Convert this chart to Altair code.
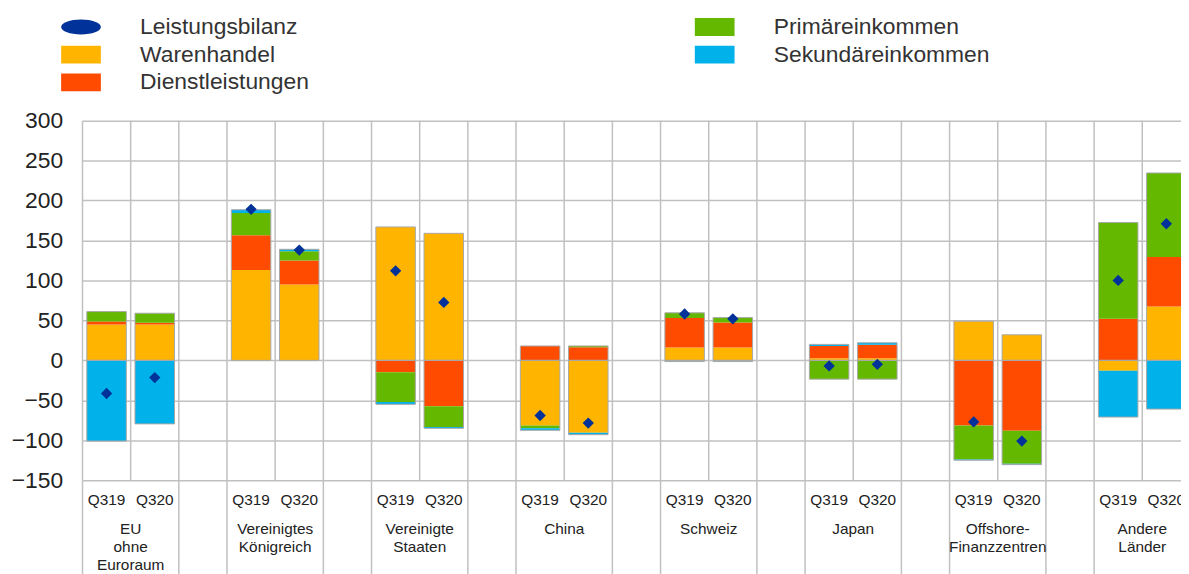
import altair as alt
import pandas as pd

groups = ["EU ohne Euroraum", "Vereinigtes Königreich", "Vereinigte Staaten", "China",
          "Schweiz", "Japan", "Offshore-Finanzzentren", "Andere Länder"]
group_labels = ["EU\nohne\nEuroraum", "Vereinigtes\nKönigreich", "Vereinigte\nStaaten", "China",
                "Schweiz", "Japan", "Offshore-\nFinanzzentren", "Andere\nLänder"]
periods = ["Q319", "Q320"]

# values per group: Q319, Q320 (EUR bn)
warenhandel = [45, 45, 113, 95, 167, 159, -81.5, -90.5, 16, 16, 2.5, 2.5, 49, 32, -13, 67.5]
dienstleistungen = [3.5, 2, 43.5, 30, -15, -57.5, 18, 16.5, 37, 31.5, 15.5, 17, -81.5, -88, 52, 62]
primaereinkommen = [12.5, 12, 28, 11.5, -37, -26, -3.5, 1.5, 6.5, 6, -23.5, -23.5, -42.5, -41.5, 120.5, 105]
sekundaereinkommen = [-101, -79.5, 4, 2.5, -3, -1.5, -2.5, -2.5, -1.5, -1.5, 2, 2.5, -1, -1, -58, -61]
leistungsbilanz = [-41.5, -21.5, 189, 138, 112, 72.5, -69, -78.5, 58, 52, -7, -5, -77, -101, 100, 171]

series_names = ["Warenhandel", "Dienstleistungen", "Primäreinkommen", "Sekundäreinkommen"]
series_values = [warenhandel, dienstleistungen, primaereinkommen, sekundaereinkommen]

legend_order = ["Leistungsbilanz", "Warenhandel", "Dienstleistungen", "Primäreinkommen", "Sekundäreinkommen"]
legend_colors = ["#003299", "#FFB400", "#FF4B00", "#65B800", "#00B1EA"]
ellipse = "M-2,0 A2,0.75 0 1,0 2,0 A2,0.75 0 1,0 -2,0 Z"
rect = "M-2,-0.9 L2,-0.9 L2,0.9 L-2,0.9 Z"
legend_shapes = [ellipse, rect, rect, rect, rect]

# slots: Q319, Q320, gap for each group
slots = []
for gi in range(len(groups)):
    slots += [f"{gi}|Q319", f"{gi}|Q320", f"{gi}|gap"]

bar_rows = []
for si, (name, vals) in enumerate(zip(series_names, series_values)):
    for gi in range(len(groups)):
        for pi, p in enumerate(periods):
            bar_rows.append({"slot": f"{gi}|{p}", "series": name, "value": vals[gi * 2 + pi], "ord": si})
bars_df = pd.DataFrame(bar_rows)

# outline of the positive and negative stacks
outline_rows = []
for gi in range(len(groups)):
    for pi, p in enumerate(periods):
        k = gi * 2 + pi
        pos = sum(v[k] for v in series_values if v[k] > 0)
        neg = sum(v[k] for v in series_values if v[k] < 0)
        if pos:
            outline_rows.append({"slot": f"{gi}|{p}", "lo": 0, "hi": pos})
        if neg:
            outline_rows.append({"slot": f"{gi}|{p}", "lo": neg, "hi": 0})
outline_df = pd.DataFrame(outline_rows)

ca_df = pd.DataFrame([{"slot": f"{gi}|{p}", "ca": leistungsbilanz[gi * 2 + pi]}
                      for gi in range(len(groups)) for pi, p in enumerate(periods)])

grid_df = pd.DataFrame({"slot": slots})
bound_df = pd.DataFrame({"slot": [s for s in slots if not s.endswith("Q320")]})
label_df = pd.DataFrame({"slot": [f"{gi}|Q320" for gi in range(len(groups))], "label": group_labels})
legend_df = pd.DataFrame({"series": legend_order})

STEP = 48.5
W, H = STEP * len(slots), 362
FONT = "Liberation Sans"
GRID = "#c0c0c0"

x_scale = alt.Scale(domain=slots, paddingInner=0, paddingOuter=0, round=False)
x_axis = alt.Axis(title=None, grid=False, ticks=False, domain=False, labelAngle=0,
                  labelExpr="split(datum.value, '|')[1] == 'gap' ? '' : split(datum.value, '|')[1]",
                  labelFontSize=15.5, labelFont=FONT, labelColor="#222", labelPadding=12)
y_scale = alt.Scale(domain=[-150, 300], nice=False)
y_axis = alt.Axis(title=None, values=list(range(-150, 301, 50)), grid=True, gridColor=GRID,
                  gridWidth=1.5, ticks=False, domain=False, labelFontSize=23, labelFont=FONT,
                  labelColor="#222", labelPadding=20)

color_scale = alt.Scale(domain=legend_order, range=legend_colors)
shape_scale = alt.Scale(domain=legend_order, range=legend_shapes)
legend = alt.Legend(orient="none", legendX=-13, legendY=-106, columns=2, title=None,
                    labelFontSize=23, labelFont=FONT, labelColor="#333", symbolSize=400,
                    symbolStrokeWidth=0, labelOffset=48, rowPadding=4, columnPadding=387,
                    labelLimit=400, symbolOpacity=1)


def xenc(band=None):
    if band is None:
        return alt.X("slot:N", scale=x_scale, axis=x_axis, sort=slots)
    return alt.X("slot:N", scale=x_scale, axis=x_axis, sort=slots, bandPosition=band)


grid_rules = alt.Chart(grid_df).mark_rule(color=GRID, strokeWidth=1.5).encode(
    x=xenc(0), y=alt.value(0), y2=alt.value(H))

bound_rules = alt.Chart(bound_df).mark_rule(color=GRID, strokeWidth=1.5).encode(
    x=xenc(0), y=alt.value(H), y2=alt.value(H + 120))

bars = alt.Chart(bars_df).mark_bar(width=alt.RelativeBandSize(0.82)).encode(
    x=xenc(),
    y=alt.Y("value:Q", stack="zero", scale=y_scale, axis=y_axis),
    color=alt.Color("series:N", scale=color_scale, legend=legend),
    order=alt.Order("ord:Q", sort="ascending"),
)

outlines = alt.Chart(outline_df).mark_bar(width=alt.RelativeBandSize(0.82), fillOpacity=0,
                                          stroke="#a8a8a8", strokeWidth=1).encode(
    x=xenc(),
    y=alt.Y("hi:Q", scale=y_scale, axis=y_axis),
    y2="lo:Q",
)

points = alt.Chart(ca_df).mark_point(shape="diamond", filled=True, size=130, color="#003299",
                                     opacity=1).encode(
    x=xenc(), y=alt.Y("ca:Q", scale=y_scale, axis=y_axis))

group_text = alt.Chart(label_df).mark_text(baseline="top", align="center", lineBreak="\n",
                                           fontSize=15.5, lineHeight=18, font=FONT,
                                           color="#222").encode(
    x=xenc(0), y=alt.value(H + 42), text="label:N")

legend_layer = alt.Chart(legend_df).mark_point(filled=True, opacity=1, clip=True).encode(
    y=alt.value(-2000),
    color=alt.Color("series:N", scale=color_scale, legend=legend),
    shape=alt.Shape("series:N", scale=shape_scale, legend=legend),
)

chart = alt.layer(grid_rules, bound_rules, bars, outlines, points, group_text,
                  legend_layer).properties(
    width=W, height=H,
    autosize=alt.AutoSizeParams(type="none"),
    padding={"left": 75, "top": 111.5, "right": 1181 - 75 - W, "bottom": 92.5},
    background="white",
).configure_view(stroke=None)

chart.save("out.html", embed_options={"renderer": "svg", "actions": False})
